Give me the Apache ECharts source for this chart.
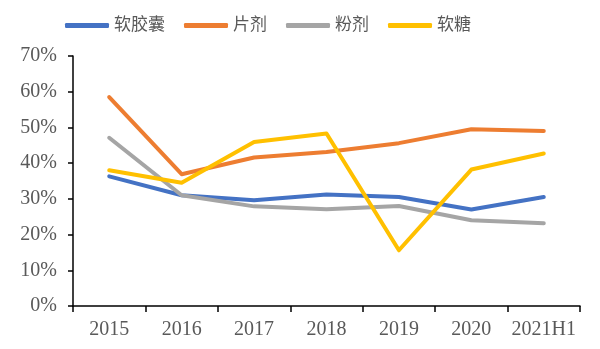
<!DOCTYPE html>
<html>
<head>
<meta charset="utf-8">
<script src="https://cdn.jsdelivr.net/npm/echarts@6/dist/echarts.min.js"></script>
<style>
  html, body { margin: 0; padding: 0; background: #fff; }
  #chart { width: 600px; height: 349px; }
</style>
</head>
<body>
<div id="chart"></div>
<script>
// Categories (years) along the x axis
const categories = ['2015', '2016', '2017', '2018', '2019', '2020', '2021H1'];

// Share per product form, in percent
const softCapsule = [36.3, 31.0, 29.6, 31.2, 30.5, 27.0, 30.5];
const tablet      = [58.5, 36.9, 41.6, 43.1, 45.6, 49.5, 49.0];
const powder      = [47.1, 31.0, 27.9, 27.1, 28.0, 24.0, 23.2];
const gummy       = [38.0, 34.5, 45.9, 48.3, 15.6, 38.2, 42.7];

const seriesNames  = ['软胶囊', '片剂', '粉剂', '软糖'];
const seriesValues = [softCapsule, tablet, powder, gummy];
const seriesColors = ['#4472C4', '#ED7D31', '#A5A5A5', '#FFC000'];

const yMin = 0, yMax = 70, yStep = 10;

const labelFont = '"Liberation Serif", "Times New Roman", "Noto Sans CJK SC", serif';
const labelColor = '#595959';

const chart = echarts.init(document.getElementById('chart'), null, { renderer: 'canvas' });

chart.setOption({
  animation: false,
  backgroundColor: '#ffffff',
  legend: {
    left: 60,
    top: 12,
    itemWidth: 44,
    itemHeight: 5,
    itemGap: 19,
    icon: 'roundRect',
    data: seriesNames,
    textStyle: {
      fontFamily: labelFont,
      fontSize: 17,
      color: labelColor
    }
  },
  grid: {
    left: 73,
    right: 20,
    top: 56,
    bottom: 43,
    containLabel: false
  },
  xAxis: {
    type: 'category',
    data: categories,
    boundaryGap: true,
    axisLine: { show: true, lineStyle: { color: '#000', width: 1.5 } },
    axisTick: { show: true, length: 6, inside: false, alignWithLabel: false, lineStyle: { color: '#000', width: 1.5 } },
    axisLabel: {
      fontFamily: labelFont,
      fontSize: 20,
      color: labelColor,
      margin: 14,
      interval: 0
    },
    splitLine: { show: false }
  },
  yAxis: {
    type: 'value',
    min: yMin,
    max: yMax,
    interval: yStep,
    axisLine: { show: true, lineStyle: { color: '#000', width: 1.5 } },
    axisTick: { show: true, length: 5, inside: false, lineStyle: { color: '#000', width: 1.5 } },
    axisLabel: {
      fontFamily: labelFont,
      fontSize: 20,
      color: labelColor,
      margin: 16,
      formatter: v => v + '%'
    },
    splitLine: { show: false }
  },
  series: seriesNames.map((name, i) => ({
    name: name,
    type: 'line',
    data: seriesValues[i],
    color: seriesColors[i],
    showSymbol: false,
    symbol: 'none',
    lineStyle: { width: 4, color: seriesColors[i], cap: 'round', join: 'round' },
    emphasis: { disabled: true }
  }))
});
</script>
</body>
</html>
